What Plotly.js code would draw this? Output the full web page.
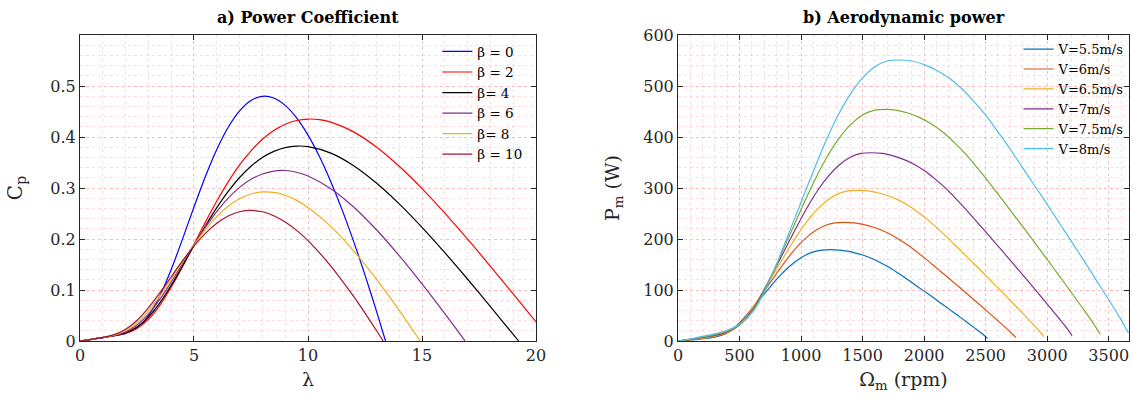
<!DOCTYPE html>
<html>
<head>
<meta charset="utf-8">
<script src="https://cdn.plot.ly/plotly-3.0.1.min.js"></script>
<style>html,body{margin:0;padding:0;background:#fff;}#chart{width:1133px;height:402px;}</style>
</head>
<body>
<div id="chart"></div>
<script>
// ---------- a) Power coefficient ----------
const lam0 = [0,0.5,1,1.5,2,2.5,3,3.5,4,4.5,5,5.5,6,6.5,7,7.5,8,8.5,9,9.5,10,10.5,11,11.5,12,12.5,13,13.4];
const cp0  = [0,0.0034,0.0068,0.0103,0.0151,0.0261,0.0495,0.0882,0.1401,0.2003,0.2629,0.3227,0.3756,0.4191,0.4513,0.4716,0.4798,0.4764,0.4620,0.4375,0.4037,0.3618,0.3124,0.2567,0.1954,0.1293,0.0590,0];

const lam2 = [0,0.5,1,1.5,2,2.5,3,3.5,4,4.5,5,5.5,6,6.5,7,7.5,8,8.5,9,9.5,10,10.5,11,12,13,14,15,16,17,18,19,20];
const cp2  = [0,0.0034,0.0068,0.0103,0.0152,0.0248,0.0426,0.0699,0.1053,0.1461,0.1897,0.2331,0.2744,0.3121,0.3453,0.3730,0.3956,0.4128,0.4250,0.4324,0.4352,0.4341,0.4293,0.4101,0.3804,0.3426,0.2989,0.2508,0.1997,0.1465,0.0922,0.0375];

const lam4 = [0,0.5,1,1.5,2,2.5,3,3.5,4,4.5,5,5.5,6,6.5,7,7.5,8,8.5,9,9.5,10,11,12,13,14,15,16,17,18,19,19.24];
const cp4  = [0,0.0034,0.0068,0.0105,0.0163,0.0275,0.0469,0.0747,0.1091,0.1474,0.1870,0.2256,0.2614,0.2933,0.3206,0.3427,0.3598,0.3719,0.3793,0.3823,0.3812,0.3684,0.3438,0.3098,0.2689,0.2229,0.1732,0.1211,0.0674,0.0130,0];

const lam6 = [0,0.5,1,1.5,2,2.5,3,3.5,4,4.5,5,5.5,6,6.5,7,7.5,8,8.5,9,9.5,10,11,12,13,14,15,16,16.89];
const cp6  = [0,0.0034,0.0068,0.0109,0.0179,0.0313,0.0526,0.0815,0.1156,0.1521,0.1887,0.2231,0.2539,0.2801,0.3012,0.3170,0.3276,0.3333,0.3343,0.3309,0.3236,0.2987,0.2628,0.2182,0.1674,0.1120,0.0536,0];

const lam8 = [0,0.5,1,1.5,2,2.5,3,3.5,4,4.5,5,5.5,6,6.5,7,7.5,8,8.5,9,9.5,10,11,12,13,14,14.92];
const cp8  = [0,0.0034,0.0069,0.0115,0.0201,0.0355,0.0587,0.0881,0.1214,0.1557,0.1887,0.2185,0.2439,0.2642,0.2790,0.2883,0.2924,0.2914,0.2857,0.2758,0.2620,0.2248,0.1770,0.1214,0.0601,0];

const lam10 = [0,0.5,1,1.5,2,2.5,3,3.5,4,4.5,5,5.5,6,6.5,7,7.5,8,8.5,9,9.5,10,11,12,12.5,13,13.3];
const cp10  = [0,0.0034,0.0071,0.0125,0.0229,0.0403,0.0648,0.0942,0.1260,0.1575,0.1864,0.2112,0.2310,0.2452,0.2535,0.2560,0.2534,0.2457,0.2333,0.2169,0.1967,0.1470,0.0875,0.0548,0.0207,0];

const betaNames  = ["β = 0","β = 2","β= 4","β = 6","β= 8","β = 10"];
const betaColors = ["#0000ff","#ff0000","#000000","#7e2f8e","#edb120","#a2142f"];

// ---------- b) Aerodynamic power ----------
const om55 = [0,69,138,206,275,344,413,481,550,619,688,756,825,894,963,1031,1100,1169,1238,1306,1375,1444,1513,1581,1650,1719,1788,1856,1925,1994,2063,2131,2200,2269,2338,2406,2475,2516];
const p55  = [0,1.3,2.9,4.5,6.8,10.7,17.9,30.9,48.7,68.6,88.4,108.2,127.1,143.6,157.3,167.7,174.8,178.4,179.0,178.4,176.1,172.5,167.7,161.2,153.1,144.0,133.2,122.2,110.5,98.8,87.1,75.1,63.0,51.0,38.7,26.3,13.6,5.2];

const om60 = [0,75,150,225,300,375,450,525,600,675,750,825,900,975,1050,1125,1200,1275,1350,1425,1500,1575,1650,1725,1800,1875,1950,2025,2100,2175,2250,2325,2400,2475,2550,2625,2700,2745];
const p60  = [0,1.7,3.8,5.9,8.9,13.9,23.2,40.1,63.3,89.0,114.8,140.5,165.0,186.5,204.2,217.7,227.0,231.6,232.5,231.6,228.7,224.0,217.7,209.3,198.7,186.9,173.0,158.6,143.4,128.3,113.1,97.5,81.8,66.2,50.2,34.2,17.7,6.8];

const om65 = [0,81,163,244,325,406,488,569,650,731,813,894,975,1056,1138,1219,1300,1381,1463,1544,1625,1706,1788,1869,1950,2031,2113,2194,2275,2356,2438,2519,2600,2681,2763,2844,2925,2974];
const p65  = [0,2.1,4.8,7.5,11.3,17.7,29.5,51.0,80.5,113.2,145.9,178.6,209.7,237.1,259.6,276.8,288.6,294.5,295.5,294.5,290.7,284.8,276.8,266.0,252.6,237.6,219.9,201.7,182.4,163.1,143.7,123.9,104.1,84.2,63.8,43.4,22.5,8.6];

const om70 = [0,87.5,175,262.5,350,437.5,525,612.5,700,787.5,875,962.5,1050,1137.5,1225,1312.5,1400,1487.5,1575,1662.5,1750,1837.5,1925,2012.5,2100,2187.5,2275,2362.5,2450,2537.5,2625,2712.5,2800,2887.5,2975,3062.5,3150,3202.5];
const p70  = [0,2.7,6.0,9.4,14.1,22.1,36.8,63.6,100.5,141.4,182.2,223.1,261.9,296.1,324.2,345.7,360.4,367.8,369.1,367.8,363.1,355.7,345.7,332.3,315.5,296.8,274.7,251.9,227.8,203.7,179.5,154.8,130.0,105.2,79.7,54.3,28.1,10.7];

const om75 = [0,93.75,187.5,281.25,375,468.75,562.5,656.25,750,843.75,937.5,1031.25,1125,1218.75,1312.5,1406.25,1500,1593.75,1687.5,1781.25,1875,1968.75,2062.5,2156.25,2250,2343.75,2437.5,2531.25,2625,2718.75,2812.5,2906.25,3000,3093.75,3187.5,3281.25,3375,3431.25];
const p75  = [0,3.3,7.4,11.5,17.3,27.2,45.3,78.3,123.6,173.9,224.1,274.4,322.2,364.2,398.8,425.2,443.3,452.4,454.0,452.4,446.6,437.5,425.2,408.7,388.1,365.0,337.8,309.8,280.2,250.5,220.8,190.3,159.9,129.4,98.1,66.7,34.6,13.2];

const om80 = [0,100,200,300,400,500,600,700,800,900,1000,1100,1200,1300,1400,1500,1600,1700,1800,1900,2000,2100,2200,2300,2400,2500,2600,2700,2800,2900,3000,3100,3200,3300,3400,3500,3600,3660];
const p80  = [0,4,9,14,21,33,55,95,150,211,272,333,391,442,484,516,538,549,551,549,542,531,516,496,471,443,410,376,340,304,268,231,194,157,119,81,42,16];

const windNames  = ["V=5.5m/s","V=6m/s","V=6.5m/s","V=7m/s","V=7.5m/s","V=8m/s"];
const windColors = ["#0072bd","#d95319","#edb120","#7e2f8e","#77ac30","#4dbeee"];

const cpX = [lam0,lam2,lam4,lam6,lam8,lam10];
const cpY = [cp0,cp2,cp4,cp6,cp8,cp10];
const pX = [om55,om60,om65,om70,om75,om80];
const pY = [p55,p60,p65,p70,p75,p80];

const traces = [];
for (let i = 0; i < 6; i++) {
  traces.push({x: cpX[i], y: cpY[i], type: 'scatter', mode: 'lines', name: betaNames[i],
    line: {color: betaColors[i], width: 1.2, shape: 'spline', smoothing: 0.8},
    xaxis: 'x', yaxis: 'y', legend: 'legend'});
}
for (let i = 0; i < 6; i++) {
  traces.push({x: pX[i], y: pY[i], type: 'scatter', mode: 'lines', name: windNames[i],
    line: {color: windColors[i], width: 1.2, shape: 'spline', smoothing: 0.8},
    xaxis: 'x2', yaxis: 'y2', legend: 'legend2'});
}

const gridC = 'rgba(250,150,150,0.42)';
const minorC = 'rgba(250,150,150,0.32)';
const axCommon = {
  showline: true, linecolor: '#262626', linewidth: 1, mirror: 'ticks',
  ticks: 'inside', ticklen: 5, tickcolor: '#262626', tickwidth: 1,
  showgrid: true, gridcolor: gridC, griddash: 'dot', gridwidth: 1,
  zeroline: false, automargin: false,
  tickfont: {family: 'DejaVu Serif', size: 16, color: '#262626'}
};
const minorX = (d) => ({dtick: d, showgrid: true, gridcolor: minorC, griddash: 'dot', gridwidth: 1, ticks: ''});

const layout = {
  width: 1133, height: 402,
  margin: {l: 0, r: 0, t: 0, b: 0},
  paper_bgcolor: '#ffffff', plot_bgcolor: '#ffffff',
  font: {family: 'DejaVu Serif', size: 16, color: '#262626'},
  showlegend: true,
  xaxis: Object.assign({}, axCommon, {
    domain: [0.0706, 0.4731], range: [0, 20], tickvals: [0,5,10,15,20],
    minor: minorX(1), anchor: 'y',
    title: {text: 'λ', font: {size: 19}, standoff: 8}
  }),
  yaxis: Object.assign({}, axCommon, {
    domain: [0.1517, 0.9129], range: [0, 0.6], tickvals: [0,0.1,0.2,0.3,0.4,0.5],
    ticktext: ['0','0.1','0.2','0.3','0.4','0.5'],
    minor: minorX(0.02), anchor: 'x',
    title: {text: 'C<sub>p</sub>', font: {size: 20}, standoff: 22}
  }),
  xaxis2: Object.assign({}, axCommon, {
    domain: [0.5984, 0.9965], range: [0, 3665], tickvals: [0,500,1000,1500,2000,2500,3000,3500],
    minor: minorX(100), anchor: 'y2',
    title: {text: 'Ω<sub>m</sub> (rpm)', font: {size: 19}, standoff: 8}
  }),
  yaxis2: Object.assign({}, axCommon, {
    domain: [0.1517, 0.9129], range: [0, 600], tickvals: [0,100,200,300,400,500,600],
    minor: minorX(20), anchor: 'x2',
    title: {text: 'P<sub>m</sub> (W)', font: {size: 19}, standoff: 18}
  }),
  legend: {x: 0.386, y: 0.91, xanchor: 'left', yanchor: 'top', bgcolor: 'rgba(0,0,0,0)',
    borderwidth: 0, font: {family: 'DejaVu Serif', size: 13.5, color: '#000'}, tracegroupgap: 0},
  legend2: {x: 0.899, y: 0.915, xanchor: 'left', yanchor: 'top', bgcolor: 'rgba(0,0,0,0)',
    borderwidth: 0, font: {family: 'DejaVu Serif', size: 13, color: '#000'}, tracegroupgap: 0},
  annotations: [
    {text: '<b>a) Power Coefficient</b>', x: 0.2718, y: 0.957, xref: 'paper', yref: 'paper',
      xanchor: 'center', yanchor: 'middle', showarrow: false, font: {family: 'DejaVu Serif', size: 16, color: '#000'}},
    {text: '<b>b) Aerodynamic power</b>', x: 0.7975, y: 0.957, xref: 'paper', yref: 'paper',
      xanchor: 'center', yanchor: 'middle', showarrow: false, font: {family: 'DejaVu Serif', size: 16, color: '#000'}}
  ]
};

Plotly.newPlot('chart', traces, layout, {displayModeBar: false, staticPlot: true});
</script>
</body>
</html>
